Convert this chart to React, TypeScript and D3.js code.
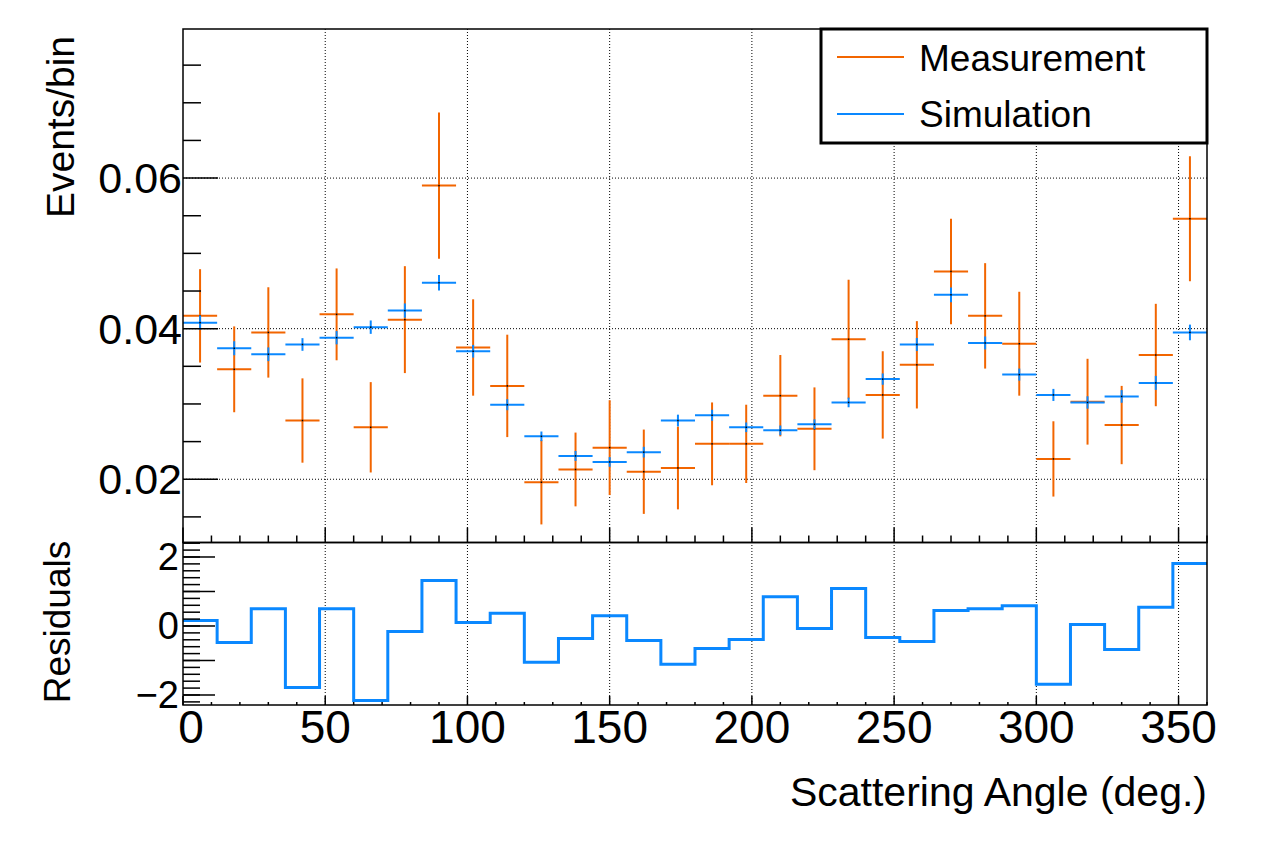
import React from "react";
import * as d3 from "d3";

// bin centres (deg.), 12 deg. wide bins
const angles = [6, 18, 30, 42, 54, 66, 78, 90, 102, 114, 126, 138, 150, 162, 174,
  186, 198, 210, 222, 234, 246, 258, 270, 282, 294, 306, 318, 330, 342, 354];
const BIN_WIDTH = 12;

const measured = [0.0417, 0.0346, 0.0395, 0.0278, 0.0419, 0.0269, 0.0412, 0.0590, 0.0375, 0.0324,
  0.0196, 0.0213, 0.0242, 0.0210, 0.0215, 0.0247, 0.0247, 0.0311, 0.0267, 0.0386,
  0.0312, 0.0352, 0.0476, 0.0417, 0.0380, 0.0227, 0.0303, 0.0272, 0.0365, 0.0546];
const measuredErr = [0.0062, 0.0057, 0.0060, 0.0056, 0.0061, 0.0060, 0.0071, 0.0097, 0.0064, 0.0068,
  0.0056, 0.0049, 0.0063, 0.0056, 0.0055, 0.0055, 0.0052, 0.0054, 0.0055, 0.0079,
  0.0058, 0.0058, 0.0070, 0.0070, 0.0069, 0.0050, 0.0057, 0.0052, 0.0068, 0.0083];

const simulated = [0.0408, 0.0374, 0.0366, 0.0379, 0.0388, 0.0402, 0.0424, 0.0461, 0.0370, 0.0299,
  0.0257, 0.0231, 0.0223, 0.0236, 0.0278, 0.0285, 0.0269, 0.0265, 0.0273, 0.0302,
  0.0333, 0.0379, 0.0445, 0.0381, 0.0339, 0.0312, 0.0302, 0.0310, 0.0328, 0.0395];
const simulatedErr = [0.00095, 0.00093, 0.00091, 0.00084, 0.00088, 0.00089, 0.00095, 0.00102, 0.00084, 0.00073,
  0.00064, 0.00066, 0.00064, 0.00071, 0.00078, 0.00073, 0.00064, 0.00064, 0.00066, 0.00064,
  0.00075, 0.00086, 0.00098, 0.00086, 0.0008, 0.0008, 0.00082, 0.00084, 0.00093, 0.00104];

const residuals = [0.16, -0.48, 0.50, -1.78, 0.50, -2.16, -0.16, 1.32, 0.10, 0.37,
  -1.05, -0.36, 0.30, -0.42, -1.11, -0.65, -0.39, 0.85, -0.07, 1.09,
  -0.33, -0.45, 0.45, 0.50, 0.59, -1.69, 0.04, -0.68, 0.54, 1.81];

const xTickLabels = [0, 50, 100, 150, 200, 250, 300, 350];
const yTickLabels = [0.02, 0.04, 0.06];
const resTickLabels = [-2, 0, 2];

const ORANGE = "#f26500";
const BLUE = "#0a88ff";
const FONT = "'Liberation Sans', Arial, Helvetica, sans-serif";

const App = () => {
  const left = 183, right = 1207;
  const top = 29, mid = 542.5, bottom = 705;

  const x = d3.scaleLinear().domain([0, 360]).range([left, right]);
  const y = d3.scaleLinear().domain([0.0116, 0.0798]).range([mid, top]);
  const yr = d3.scaleLinear().domain([-2.29, 2.42]).range([bottom, mid]);

  const xMinor = d3.range(0, 361, 10);
  const yMinor = d3.range(0.015, 0.0799, 0.005);
  const rMajor = d3.range(-2, 2.01, 1);
  const rMinor = d3.range(-2.2, 2.41, 0.2);

  const stepPts: [number, number][] = angles.map((a, i) => [a - BIN_WIDTH / 2, residuals[i]]);
  stepPts.push([360, residuals[residuals.length - 1]]);
  const step = d3.line<[number, number]>()
    .x(d => x(d[0]))
    .y(d => yr(d[1]))
    .curve(d3.curveStepAfter);

  const errorCross = (vals: number[], errs: number[], color: string, key: string) =>
    angles.map((a, i) => (
      <g key={key + i} stroke={color} strokeWidth={2}>
        <line x1={x(a - BIN_WIDTH / 2)} x2={x(a + BIN_WIDTH / 2)} y1={y(vals[i])} y2={y(vals[i])} />
        <line x1={x(a)} x2={x(a)} y1={y(vals[i] - errs[i])} y2={y(vals[i] + errs[i])} />
        <rect x={x(a) - 0.75} y={y(vals[i]) - 0.75} width={1.5} height={1.5} fill="#000" stroke="none" />
      </g>
    ));

  return (
    <svg width={1278} height={850} style={{ position: "absolute", left: 0, top: 0, background: "#fff" }}
      fontFamily={FONT}>
      <rect width={1278} height={850} fill="#fff" />

      {/* grids */}
      <g stroke="#000" strokeWidth={1} strokeDasharray="1 2">
        {xTickLabels.filter(v => v > 0).map(v => (
          <line key={"gv" + v} x1={x(v)} x2={x(v)} y1={top} y2={bottom} />
        ))}
        {yTickLabels.map(v => (
          <line key={"gh" + v} x1={left} x2={right} y1={y(v)} y2={y(v)} />
        ))}
      </g>

      {/* upper pad data */}
      {errorCross(measured, measuredErr, ORANGE, "m")}
      {errorCross(simulated, simulatedErr, BLUE, "s")}

      {/* residual histogram */}
      <path d={step(stepPts) || ""} fill="none" stroke={BLUE} strokeWidth={3} />

      {/* frames */}
      <g fill="none" stroke="#000" strokeWidth={1.5}>
        <rect x={left} y={top} width={right - left} height={mid - top} />
        <rect x={left} y={mid} width={right - left} height={bottom - mid} />
      </g>

      {/* ticks */}
      <g stroke="#000" strokeWidth={1.5}>
        {xMinor.map(v => (
          <line key={"ut" + v} x1={x(v)} x2={x(v)} y1={mid} y2={mid - (v % 50 === 0 ? 15 : 7)} />
        ))}
        {xMinor.map(v => (
          <line key={"lt" + v} x1={x(v)} x2={x(v)} y1={bottom} y2={bottom - (v % 50 === 0 ? 9 : 3)} />
        ))}
        {yMinor.map(v => {
          const major = yTickLabels.some(t => Math.abs(t - v) < 1e-6);
          return <line key={"yt" + v} x1={left} x2={left + (major ? 35 : 18)} y1={y(v)} y2={y(v)} />;
        })}
        {rMinor.map(v => (
          <line key={"rt" + v} x1={left} x2={left + 17} y1={yr(v)} y2={yr(v)} />
        ))}
        {rMajor.map(v => (
          <line key={"rM" + v} x1={left} x2={left + 32} y1={yr(v)} y2={yr(v)} />
        ))}
      </g>

      {/* tick labels */}
      <g fill="#000" fontSize={43} textAnchor="end">
        {yTickLabels.map(v => (
          <text key={"yl" + v} x={182} y={y(v)} dominantBaseline="central">{v.toFixed(2)}</text>
        ))}
      </g>
      <g fill="#000" fontSize={38} textAnchor="end">
        {resTickLabels.map(v => (
          <text key={"rl" + v} x={179} y={yr(v)} dominantBaseline="central">
            {v < 0 ? "\u2212" + Math.abs(v) : String(v)}
          </text>
        ))}
      </g>
      <g fill="#000" fontSize={46} textAnchor="middle">
        {xTickLabels.map(v => (
          <text key={"xl" + v} x={v === 0 ? x(v) + 8 : x(v)} y={743}>{v}</text>
        ))}
      </g>

      {/* axis titles */}
      <text x={1207} y={806} fontSize={41} textAnchor="end" fill="#000">Scattering Angle (deg.)</text>
      <text transform="translate(74,127) rotate(-90)" fontSize={39} textAnchor="middle" fill="#000">Events/bin</text>
      <text transform="translate(70,622) rotate(-90)" fontSize={37} textAnchor="middle" fill="#000">Residuals</text>

      {/* legend */}
      <rect x={821} y={29} width={386} height={114} fill="#fff" stroke="#000" strokeWidth={3} />
      <line x1={837} x2={904} y1={57} y2={57} stroke={ORANGE} strokeWidth={2} />
      <line x1={837} x2={904} y1={114} y2={114} stroke={BLUE} strokeWidth={2} />
      <text x={919} y={71} fontSize={37} fill="#000">Measurement</text>
      <text x={919} y={127} fontSize={37} fill="#000">Simulation</text>
    </svg>
  );
};

export default App;
